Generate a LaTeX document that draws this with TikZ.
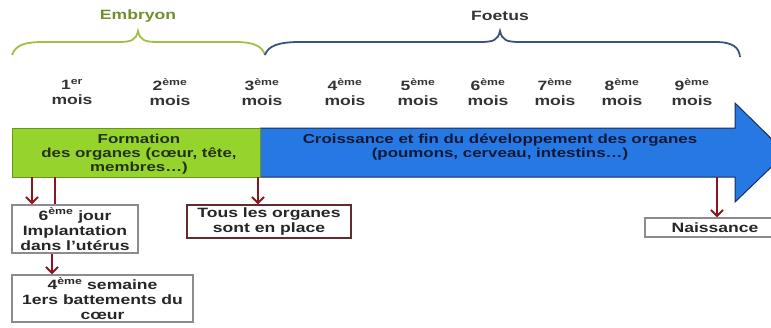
\documentclass[tikz,border=0pt]{standalone}
\usepackage{fontspec}
\setmainfont{Liberation Sans}[FakeStretch=1.3]
\usetikzlibrary{arrows.meta}

\definecolor{vertbar}{RGB}{150,212,45}
\definecolor{bleubar}{RGB}{38,120,226}
\definecolor{bordbleu}{RGB}{25,45,95}
\definecolor{rougefl}{RGB}{140,22,32}
\definecolor{vertacc}{RGB}{160,192,65}
\definecolor{bleuacc}{RGB}{60,80,130}
\definecolor{grisbord}{RGB}{140,140,140}
\definecolor{brunbord}{RGB}{95,45,45}

\tikzset{
  moislabel/.style={font=\bfseries\fontsize{13.5}{14.5}\selectfont, text=black!80, align=center, inner sep=0pt},
  barlabel/.style={font=\bfseries\fontsize{13}{14}\selectfont, align=center, inner sep=0pt},
  evbox/.style={draw=grisbord, line width=1.2pt, fill=white, align=center, inner sep=0pt,
    font=\bfseries\fontsize{13.5}{15}\selectfont, text=black!85},
  redarrow/.style={draw=rougefl, line width=2pt, -{Straight Barb[length=6pt,width=12pt]}},
  redline/.style={draw=rougefl, line width=2pt},
}

\begin{document}
\begin{tikzpicture}[x=1pt,y=-1pt]
  \useasboundingbox (0,0) rectangle (771,327);
  \clip (0,0) rectangle (771,327);
  % accolades
  \draw[vertacc, line width=1.8pt] (12,55) .. controls (16,44) and (26,42) .. (45,42)
    -- (118,42) .. controls (132,42) and (136,40) .. (138,31)
    .. controls (140,40) and (144,42) .. (158,42) -- (235,42)
    .. controls (254,42) and (262,46) .. (265,55);
  \draw[bleuacc, line width=1.8pt] (265,55) .. controls (268,46) and (278,42) .. (300,42)
    -- (480,42) .. controls (494,42) and (498,40) .. (500,31)
    .. controls (502,40) and (506,42) .. (520,42) -- (715,42)
    .. controls (734,42) and (739,48) .. (740,57);
  \node[font=\bfseries\fontsize{13.5}{15}\selectfont, text={rgb,255:red,115;green,140;blue,45}] (embryon) at (138,16) {Embryon};
  \node[font=\bfseries\fontsize{13.5}{15}\selectfont, text=black!80] (foetus) at (500,16) {Foetus};
  % mois
  \node[moislabel] (m1) at (72,92) {1\textsuperscript{er}\\mois};
  \node[moislabel] (m2) at (170,92) {2\textsuperscript{ème}\\mois};
  \node[moislabel] (m3) at (262,92) {3\textsuperscript{ème}\\mois};
  \node[moislabel] (m4) at (345,92) {4\textsuperscript{ème}\\mois};
  \node[moislabel] (m5) at (418,92) {5\textsuperscript{ème}\\mois};
  \node[moislabel] (m6) at (488,92) {6\textsuperscript{ème}\\mois};
  \node[moislabel] (m7) at (555,92) {7\textsuperscript{ème}\\mois};
  \node[moislabel] (m8) at (622,92) {8\textsuperscript{ème}\\mois};
  \node[moislabel] (m9) at (692,92) {9\textsuperscript{ème}\\mois};
  % grande fleche
  \draw[bordbleu, line width=1pt, fill=bleubar] (260,128) -- (735,128) -- (735,103) -- (786,153)
    -- (735,202) -- (735,177) -- (260,177) -- cycle;
  \node[draw=vertbar!70!black, line width=0.6pt, fill=vertbar, minimum width=248pt, minimum height=49pt, inner sep=0pt]
    (formation) at (136,152.5) {};
  \node[barlabel, text={rgb,255:red,35;green,50;blue,20}] (formtxt) at (139,154) {Formation\\des organes (cœur, tête,\\membres…)};
  \node[barlabel, text={rgb,255:red,15;green,25;blue,55}] (croissance) at (500,147)
    {Croissance et fin du développement des organes\\(poumons, cerveau, intestins…)};
  % evenements
  \node[evbox, minimum width=126pt, minimum height=48pt] (jour) at (75,229)
    {6\textsuperscript{ème} jour\\Implantation\\dans l’utérus};
  \node[evbox, minimum width=181pt, minimum height=47pt] (semaine) at (102.5,298.5)
    {4\textsuperscript{ème} semaine\\1ers battements du\\cœur};
  \node[evbox, draw=brunbord, minimum width=164pt, minimum height=33pt] (organes) at (269,221.5)
    {Tous les organes\\sont en place};
  \node[evbox, minimum width=140pt, minimum height=19pt] (naissance) at (715,227.5) {Naissance};
  % fleches
  \coordinate (d1) at (32,177);
  \coordinate (d2) at (55,177);
  \coordinate (d3) at (258,177);
  \coordinate (d4) at (717,177);
  \draw[redarrow] (d1) -- (d1 |- jour.north);
  \draw[redline] (d2) -- (d2 |- jour.north);
  \draw[redarrow] ([xshift=-23pt]jour.south) -- ([xshift=-50.5pt]semaine.north);
  \draw[redarrow] (d3) -- (d3 |- organes.north);
  \draw[redarrow] (d4) -- (d4 |- naissance.north);
\end{tikzpicture}
\end{document}
